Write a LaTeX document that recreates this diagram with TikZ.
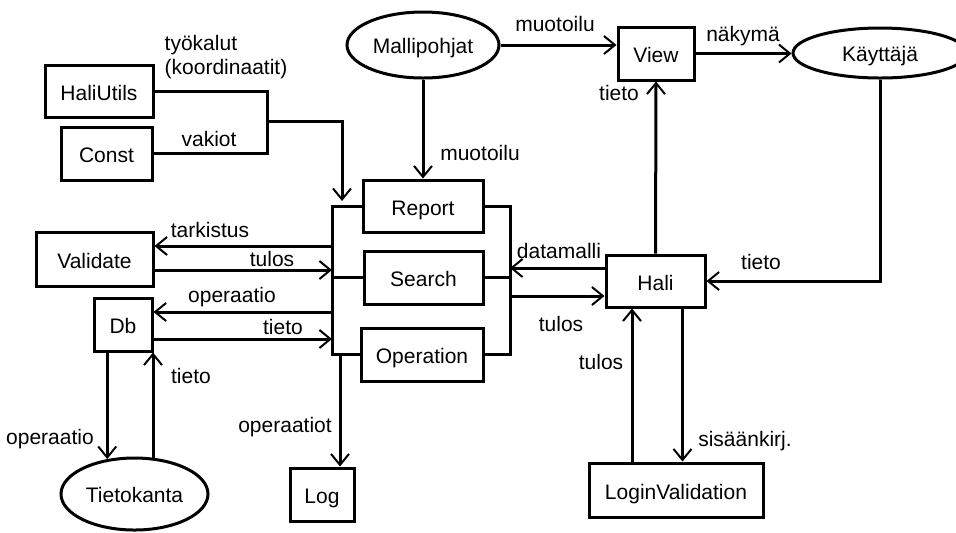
\documentclass[tikz,border=0pt]{standalone}
\usepackage{fontspec}
\setmainfont{Liberation Sans}
\usetikzlibrary{shapes.geometric,arrows.meta}

\begin{document}
\begin{tikzpicture}[x=0.5pt,y=-0.5pt,line width=1.5pt,
    font=\fontsize{10.5}{12}\selectfont,
    box/.style={draw,rectangle,inner sep=0pt,text height=9pt,text depth=0pt},
    blob/.style={draw,ellipse,inner sep=0pt,text height=8.5pt,text depth=0pt},
    lbl/.style={inner sep=0pt,align=left},
    arr/.style={-{Straight Barb[length=5.5pt,width=9pt,line width=1pt]}}]
    \useasboundingbox (0,0) rectangle (956,532);

    \node[box,minimum width=54pt,minimum height=26pt] (utils) at (99,91) {HaliUtils};
    \node[box,minimum width=45.5pt,minimum height=26.5pt] (const) at (106.5,153.5) {Const};
    \node[box,minimum width=58.5pt,minimum height=27pt] (validate) at (94.5,259) {Validate};
    \node[box,minimum width=29pt,minimum height=26.5pt] (db) at (123,324.5) {Db};
    \node[blob,minimum width=73.5pt,minimum height=36pt] (kanta) at (134.5,494) {Tietokanta};
    \node[box,minimum width=32pt,minimum height=26.5pt] (log) at (322,494.5) {Log};
    \node[blob,minimum width=76pt,minimum height=33pt] (malli) at (423,45) {Mallipohjat};
    \node[box,minimum width=60pt,minimum height=26pt] (report) at (423,206) {Report};
    \node[box,minimum width=59.5pt,minimum height=26.5pt] (search) at (423.5,277.5) {Search};
    \node[box,minimum width=61pt,minimum height=26.5pt] (operation) at (422,354.5) {Operation};
    \node[box,minimum width=38pt,minimum height=26.5pt] (view) at (656,53.5) {View};
    \node[blob,minimum width=87pt,minimum height=25pt] (kayttaja) at (880,53) {Käyttäjä};
    \node[box,minimum width=49.5pt,minimum height=26pt] (hali) at (655.5,281) {Hali};
    \node[box,minimum width=87pt,minimum height=27pt] (login) at (676,490) {LoginValidation};

    \coordinate (lx) at (332,0);
    \coordinate (rx) at (510,0);
    \coordinate (join) at (267,121);
    \coordinate (intop) at (342,201);
    \coordinate (tk) at (332,246);
    \coordinate (tu) at (332,270);
    \coordinate (opr) at (332,312);
    \coordinate (tt) at (332,339);
    \coordinate (ops) at (340,354.5);
    \coordinate (dm) at (510,268);
    \coordinate (tl) at (510,296);

    \draw (report.west) -| (operation.west -| lx) -- (operation.west);
    \draw (search.west) -- (search.west -| lx);
    \draw (report.east) -| (operation.east -| rx) -- (operation.east);
    \draw (search.east) -- (search.east -| rx);

    \draw (utils.east) -| (join) |- (const.east);
    \draw[arr] (join) -| (intop);
    \draw[arr] (tk) -- (tk -| validate.east);
    \draw[arr] (tu -| validate.east) -- (tu);
    \draw[arr] (opr) -- (opr -| db.east);
    \draw[arr] (tt -| db.east) -- (tt);
    \draw[arr] (ops) -- (ops |- log.north);
    \draw[arr] (db.south -| kanta.128) -- (kanta.128);
    \draw[arr] (kanta.63) -- (kanta.63 |- db.south);

    \draw[arr] (malli.south) -- (report.north);
    \draw[arr] (malli.east) -- (malli.east -| view.west);
    \draw[arr] (view.east) -- (view.east -| kayttaja.west);
    \draw[arr] (hali.north) -- (view.south);
    \draw[arr] (kayttaja.south) |- (hali.east);
    \draw[arr] (dm -| hali.west) -- (dm);
    \draw[arr] (tl) -- (tl -| hali.west);
    \draw[arr] ([xshift=-22pt]login.north) -- ([xshift=-22pt]login.north |- hali.south);
    \draw[arr] ([xshift=13.5pt]hali.south) -- ([xshift=13.5pt]hali.south |- login.north);

    \node[lbl] at (226,57) {työkalut\\(koordinaatit)};
    \node[lbl] at (209,139) {vakiot};
    \node[lbl] at (480,153) {muotoilu};
    \node[lbl] at (555,24) {muotoilu};
    \node[lbl] at (743,36) {näkymä};
    \node[lbl] at (619,93) {tieto};
    \node[lbl] at (559,251) {datamalli};
    \node[lbl] at (761,262) {tieto};
    \node[lbl] at (561,324) {tulos};
    \node[lbl] at (601,362) {tulos};
    \node[lbl] at (745,441) {sisäänkirj.};
    \node[lbl] at (210,230) {tarkistus};
    \node[lbl] at (272,259) {tulos};
    \node[lbl] at (232,297) {operaatio};
    \node[lbl] at (283,327) {tieto};
    \node[lbl] at (191,376) {tieto};
    \node[lbl] at (50,439) {operaatio};
    \node[lbl] at (285,427) {operaatiot};
\end{tikzpicture}
\end{document}
